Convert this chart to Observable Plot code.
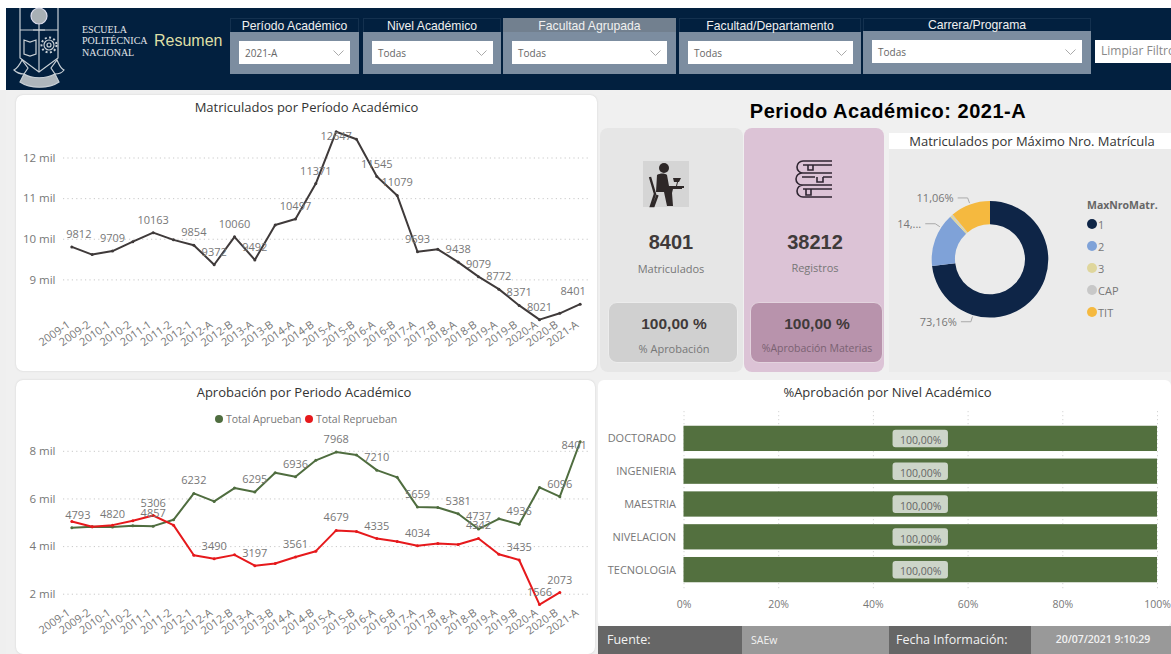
<!DOCTYPE html>
<html lang="es">
<head>
<meta charset="utf-8">
<title>Resumen</title>
<script src="https://cdn.jsdelivr.net/npm/d3@7"></script>
<script src="https://cdn.jsdelivr.net/npm/@observablehq/plot@0.6"></script>
<style>
html,body{margin:0;padding:0;background:#f1f1f1}
#root{position:relative;width:1171px;height:654px;overflow:hidden;background:#efefef;font-family:"Open Sans",sans-serif}
#root>*{position:absolute}
.t{white-space:nowrap;line-height:1}
svg{overflow:visible}
</style>
</head>
<body>
<div id="root"></div>
<script>
// ---------- data ----------
const periods = ["2009-1","2009-2","2010-1","2010-2","2011-1","2011-2","2012-1","2012-A","2012-B","2013-A","2013-B","2014-A","2014-B","2015-A","2015-B","2016-A","2016-B","2017-A","2017-B","2018-A","2018-B","2019-A","2019-B","2020-A","2020-B","2021-A"];
const matriculados = [9812,9623,9709,9940,10163,9985,9854,9372,10060,9492,10350,10497,11371,12647,12463,11545,11079,9693,9753,9438,9079,8772,8371,8021,8177,8401];
const aprueban = [4793,4830,4820,4872,4857,5125,6232,5896,6457,6295,7102,6936,7621,7968,7846,7210,6906,5659,5644,5381,4737,5167,4936,6485,6096,8401];
const reprueban = [5055,4830,4900,5083,5306,4900,3638,3490,3652,3197,3287,3561,3807,4679,4634,4335,4213,4034,4129,4087,4342,3680,3435,1566,2073,null];
const labeledMat = ["2010-1","2011-1","2012-1","2012-A","2012-B","2013-A","2014-A","2014-B","2016-A","2016-B","2017-A","2018-A","2018-B","2019-A","2019-B","2020-A"];
const labeledApr = ["2010-1","2011-1","2012-1","2013-A","2014-A","2015-A","2016-A","2017-A","2018-A","2018-B","2019-B","2020-B"];
const labeledRep = ["2011-1","2012-A","2013-A","2014-A","2015-A","2016-A","2017-A","2018-B","2019-B","2020-A","2020-B"];
const niveles = ["DOCTORADO","INGENIERIA","MAESTRIA","NIVELACION","TECNOLOGIA"];
const pctNivel = [100,100,100,100,100];
const matriculaCat = ["1","2","3","CAP","TIT"];
const matriculaPct = [73.16,14.9,0.6,0.28,11.06];
const matriculaColor = ["#0e2547","#7fa2d8","#dfd69c","#c8c8c8","#f5b93f"];
const donutLabels = [{t:"73,16%",a:197},{t:"14,...",a:303},{t:"11,06%",a:340}];
const matY = [9000,10000,11000,12000];
const aprY = [2000,4000,6000,8000];
const pctX = [0,20,40,60,80,100];
const filtros = [
  {n:"Período Académico",v:"2021-A",x:230,w:129,ix:239,iw:111},
  {n:"Nivel Académico",v:"Todas",x:363,w:138,ix:372,iw:121},
  {n:"Facultad Agrupada",v:"Todas",x:503,w:173,ix:512,iw:155,on:true},
  {n:"Facultad/Departamento",v:"Todas",x:679,w:182,ix:688,iw:165},
  {n:"Carrera/Programa",v:"Todas",x:863,w:228,ix:872,iw:210}
];

// ---------- helpers ----------
const root = document.getElementById("root");
function box(x,y,w,h,css){const d=document.createElement("div");d.style.cssText=`left:${x}px;top:${y}px;width:${w}px;height:${h}px;box-sizing:border-box;${css||""}`;root.appendChild(d);return d;}
function text(s,x,cy,o={}){const d=document.createElement("div");d.className="t";d.textContent=s;
  const a=o.anchor||"start";const tx=a==="middle"?"-50%":a==="end"?"-100%":"0";
  d.style.cssText=`left:${x}px;top:${cy}px;transform:translate(${tx},-50%);font-size:${o.size||11}px;color:${o.color||"#666"};font-weight:${o.weight||400};font-family:${o.family||'"Open Sans",sans-serif'};letter-spacing:${o.ls||0}px`;
  root.appendChild(d);return d;}
function raw(x,y,html){const d=document.createElement("div");d.style.cssText=`left:${x}px;top:${y}px;line-height:0`;d.innerHTML=html;root.appendChild(d);return d;}
function place(node,x,y){node.style.position="absolute";node.style.left=x+"px";node.style.top=y+"px";node.style.background="transparent";root.appendChild(node);}
const ARIAL='"Liberation Sans",Arial,sans-serif';
const OPEN='"Open Sans",sans-serif';
const GRAY="#777";

// ---------- page furniture ----------
box(0,0,1171,8,"background:#fff");
box(0,8,6,82,"background:#fff");
box(6,8,1165,82,"background:#02203f");
// logo
raw(12,8,`<svg width="70" height="84" viewBox="0 0 70 84" fill="none" stroke="#c9d0d6" stroke-width="1.2">
<path d="M8 0V50L27 64 L46 50 V0"/><path d="M8 22H46M27 22V64"/>
<circle cx="27" cy="8" r="8" fill="#a8b0b5" stroke="#dde"/><path d="M27 16v6M21 22h12"/>
<path d="M12 32l6 2 6-2v14l-6 2-6-2z"/>
<path d="M2 62c4-2 6-6 8-10l6 8-4 6c-4 0-7-1-10-4zM52 62c-4-2-5-6-7-10l-6 8 4 6c4 0 7-1 9-4z"/>
<path d="M12 66c8 5 22 5 31 0l4 8c-10 7-29 7-39 0z" fill="#aeb6bc"/>
<circle cx="37" cy="37" r="5"/><circle cx="37" cy="37" r="2"/><circle cx="37" cy="37" r="7.5" stroke-dasharray="2 2.4" stroke-width="2"/>
</svg>`);
["ESCUELA","POLITÉCNICA","NACIONAL"].forEach((s,i)=>text(s,82,[30,41,53][i],{size:10,color:"#e3e6ea",family:'"Liberation Serif",serif'}));
text("Resumen",154,41,{size:16,color:"#dedfa6",family:ARIAL});
filtros.forEach(f=>{
  const top = f.n==="Carrera/Programa"?31:32;
  const mid = f.n==="Carrera/Programa"?24.5:25.5;
  box(f.x,18,f.w,56,"background:#02203f;border:1px solid #14314f;");
  box(f.x,top,f.w,74-top,"background:#7c8da0");
  if(f.on) box(f.x,18,f.w,14,"background:#72808f");
  text(f.n,f.x+f.w/2,mid,{size:12.2,color:"#f0f0f0",family:ARIAL,anchor:"middle"});
  const iy=top+9;
  box(f.ix,iy,f.iw,22.5,"background:#fff");
  text(f.v,f.ix+6,iy+12,{size:10,color:"#666",family:OPEN});
  raw(f.ix+f.iw-17,iy+9,`<svg width="11" height="6"><path d="M0.5 .5L5.5 5.5L10.5 .5" fill="none" stroke="#aaa"/></svg>`);
});
box(1095,40,76,23,"background:#fff");
text("Limpiar Filtros",1101,51,{size:12,color:"#888",family:OPEN});

// panels
box(6,90,1165,564,"background:#f0f0f0");
box(16,95,581,276,"background:#fff;border-radius:7px;box-shadow:0 0 2px #ccc");
box(16,380,579,274,"background:#fff;border-radius:7px;box-shadow:0 0 2px #ccc");
box(598,380,573,247,"background:#fff;border-radius:6px");
box(600,128,143,244,"background:#e6e6e6;border-radius:8px");
box(744,128,140,244,"background:#dcc3d6;border-radius:8px");
box(608,302,130,61,"background:#d0d0d0;border:1px solid #ececec;border-radius:9px");
box(750,302,133,61,"background:#b893ac;border:1px solid #e3d3de;border-radius:9px");
box(889,149,282,223,"background:#ebebeb");
box(889,133,282,16,"background:#fff");

text("Matriculados por Período Académico",306.5,107,{size:13,color:"#333",anchor:"middle"});
text("Aprobación por Periodo Académico",304,392,{size:13,color:"#333",anchor:"middle"});
text("%Aprobación por Nivel Académico",887.5,392,{size:13,color:"#333",anchor:"middle"});
text("Periodo Académico: 2021-A",888,110.5,{size:20,color:"#000",weight:700,family:ARIAL,anchor:"middle",ls:.5});
text("Matriculados por Máximo Nro. Matrícula",1032,141,{size:13,color:"#333",anchor:"middle"});

// KPI
raw(643,161,`<svg width="46" height="46"><rect width="46" height="46" fill="#d5d5d5"/>
<circle cx="21" cy="7" r="5" fill="#2e2828"/>
<path d="M14 14c3-2 8-2 10 0l2 11h13v3H30l-1 4 1 13h-6l-3-14h-8z" fill="#2e2828"/>
<path d="M7 16l5 17-4 12h2.5l4-11" fill="none" stroke="#2e2828" stroke-width="2.4"/>
<path d="M29 25h4l1-4h-3l-1-4h8l-2 4h-1l-1 4h7v2H29z" fill="#2e2828"/></svg>`);
raw(795,160,`<svg width="38" height="39" fill="none" stroke="#2f2632" stroke-width="1.6">
<path d="M37 1H8a5.5 5.5 0 0 0 0 12h29M8 5H37M37 13H7a5.5 5.5 0 0 0 0 12h30M7 17H20M28 17H37M37 25H8a6 6 0 0 0 0 12h29M8 29H37"/><path d="M13 5v5h5V5M22 17v5h6v-5M11 29v6h5v-6"/></svg>`);
text("8401",671,242,{size:20,weight:700,color:"#403a3a",family:ARIAL,anchor:"middle"});
text("38212",815,242,{size:20,weight:700,color:"#403a3a",family:ARIAL,anchor:"middle"});
text("Matriculados",671,268,{size:11,color:"#777",anchor:"middle"});
text("Registros",815,267,{size:11,color:"#777",anchor:"middle"});
text("100,00 %",674,324,{size:15.5,weight:700,color:"#403a3a",family:ARIAL,anchor:"middle"});
text("100,00 %",817,324,{size:15.5,weight:700,color:"#403a3a",family:ARIAL,anchor:"middle"});
text("% Aprobación",674,348,{size:11,color:"#777",anchor:"middle"});
text("%Aprobación Materias",817,348,{size:10.5,color:"#7a6272",anchor:"middle"});

// legends
text("MaxNroMatr.",1087,205,{size:10.5,weight:700,color:"#666"});
matriculaCat.forEach((c,i)=>{
  const cy=224+i*22;
  box(1087,cy-5,10,10,`background:${matriculaColor[i]};border-radius:50%`);
  text(c,1098,cy,{size:11,color:"#777"});
});
box(215,415,8,8,"background:#4f6d3f;border-radius:50%");
text("Total Aprueban",226,419,{size:10.5,color:"#777"});
box(305,415,8,8,"background:#e6191c;border-radius:50%");
text("Total Reprueban",316,419,{size:10.5,color:"#777"});

// footer
box(598,626,144,28,"background:#666");
box(742,626,147,28,"background:#999");
box(889,626,142,28,"background:#666");
box(1031,626,140,28,"background:#999");
text("Fuente:",607,640,{size:12.5,color:"#f2f2f2"});
text("SAEw",751,640,{size:10.5,color:"#f2f2f2"});
text("Fecha Información:",896,640,{size:12.5,color:"#f2f2f2"});
text("20/07/2021 9:10:29",1103,639,{size:10.5,weight:600,color:"#f2f2f2",anchor:"middle"});

// ---------- charts ----------
const rows = periods.map((p,i)=>({p,mat:matriculados[i],apr:aprueban[i],rep:reprueban[i]}));
const pick = (list)=>rows.filter(d=>list.includes(d.p));
const baseStyle = {background:"transparent",fontFamily:OPEN,fontSize:"11px"};
const lab = (data,key,o={})=>Plot.text(data,{x:"p",y:key,text:d=>String(d[key]),fill:"#777",fontSize:11,fontFamily:OPEN,dy:-12.5,...o});
const xAxis = ()=>Plot.axisX({tickRotate:-35,tickSize:0,tickPadding:3,fill:GRAY,fontSize:11,label:null,dx:-3});
const yAxis = (t)=>Plot.axisY({ticks:t,tickFormat:d=>d/1000+" mil",tickSize:0,tickPadding:8,fill:GRAY,fontSize:11.5,label:null});
const grid = (t)=>Plot.gridY(t,{stroke:"#bbb",strokeOpacity:.8,strokeDasharray:"1.2 3.2"});

// Matriculados
place(Plot.plot({
  width:600,height:250,marginLeft:63,marginRight:12,marginTop:5,marginBottom:50,
  style:baseStyle,
  x:{type:"point",domain:periods,padding:.41,round:false},
  y:{domain:[8000,12800]},
  marks:[
    grid(matY),xAxis(),yAxis(matY),
    Plot.line(rows,{x:"p",y:"mat",stroke:"#3f3a3a",strokeWidth:2,curve:"linear"}),
    Plot.dot(rows,{x:"p",y:"mat",r:1.5,fill:"#3f3a3a"}),
    lab(pick(labeledMat),"mat"),
    lab(pick(["2009-1"]),"mat",{dx:7}),
    lab(pick(["2015-A"]),"mat",{dy:5}),
    lab(pick(["2021-A"]),"mat",{dx:-7})
  ]
}),0,120);

// Aprobación
const repRows = rows.filter(d=>d.rep!=null);
place(Plot.plot({
  width:600,height:225,marginLeft:63,marginRight:12,marginTop:2,marginBottom:42,
  style:baseStyle,
  x:{type:"point",domain:periods,padding:.41,round:false},
  y:{domain:[1400,9000]},
  marks:[
    grid(aprY),xAxis(),yAxis(aprY),
    Plot.line(rows,{x:"p",y:"apr",stroke:"#4f6d3f",strokeWidth:2}),
    Plot.dot(rows,{x:"p",y:"apr",r:1.5,fill:"#4f6d3f"}),
    Plot.line(repRows,{x:"p",y:"rep",stroke:"#e6191c",strokeWidth:2}),
    Plot.dot(repRows,{x:"p",y:"rep",r:1.5,fill:"#e6191c"}),
    lab(pick(labeledApr),"apr"),
    lab(pick(["2009-1"]),"apr",{dx:6}),
    lab(pick(["2021-A"]),"apr",{dx:-6,dy:4}),
    lab(pick(labeledRep),"rep")
  ]
}),0,425);

// %Aprobación por Nivel
const nivelRows = niveles.map((n,i)=>({n,v:pctNivel[i]}));
place(Plot.plot({
  width:573,height:215,marginLeft:85.5,marginRight:14,marginTop:13.2,marginBottom:30.2,
  style:baseStyle,
  x:{domain:[0,100]},
  y:{type:"band",domain:niveles,padding:.23,align:.5,round:false},
  marks:[
    Plot.ruleX(pctX,{stroke:"#ccc",strokeDasharray:"1 3",insetTop:-7,insetBottom:-1}),
    Plot.axisX({ticks:pctX,tickFormat:d=>d+"%",tickSize:0,tickPadding:10,fill:GRAY,fontSize:10.5,label:null}),
    Plot.axisY({tickSize:0,tickPadding:8,fill:GRAY,fontSize:11,label:null}),
    Plot.barX(nivelRows,{y:"n",x1:0,x2:"v",fill:"#53703f"}),
    Plot.barX(nivelRows,{y:"n",x1:d=>d.v/2-5.85,x2:d=>d.v/2+5.85,fill:"#cdd5c9",rx:3,insetTop:4,insetBottom:3.7}),
    Plot.text(nivelRows,{y:"n",x:d=>d.v/2,text:d=>d.v.toFixed(2).replace(".",",")+"%",fill:"#666",fontSize:10.5,fontFamily:OPEN,dy:2})
  ]
}),598,405);

// Donut
function donut(index,scales,values,dims,context){
  const cx=101,cy=110.3,R=58.3,r0=35;
  const g=d3.select(context.document.createElementNS("http://www.w3.org/2000/svg","g")).attr("transform",`translate(${cx},${cy})`);
  const pie=d3.pie().sort(null)(matriculaPct);
  const arc=d3.arc().innerRadius(r0).outerRadius(R);
  g.selectAll("path.s").data(pie).join("path").attr("class","s").attr("d",arc).attr("fill",(d,i)=>matriculaColor[i]);
  donutLabels.forEach(l=>{
    const a=l.a*Math.PI/180,p=(rr)=>[rr*Math.sin(a),-rr*Math.cos(a)];
    const p0=p(R+1.5),p1=p(R+7),p2=[p1[0]-10,p1[1]];
    g.append("path").attr("d",d3.line()([p0,p1,p2])).attr("fill","none").attr("stroke","#aaa");
    g.append("text").attr("x",p2[0]-4).attr("y",p2[1]+1).attr("text-anchor","end").attr("dominant-baseline","middle")
      .attr("fill","#777").attr("font-size",11).attr("font-family",OPEN).text(l.t);
  });
  return g.node();
}
place(Plot.plot({width:190,height:223,margin:0,style:baseStyle,marks:[donut]}),889,149);
</script>
</body>
</html>
